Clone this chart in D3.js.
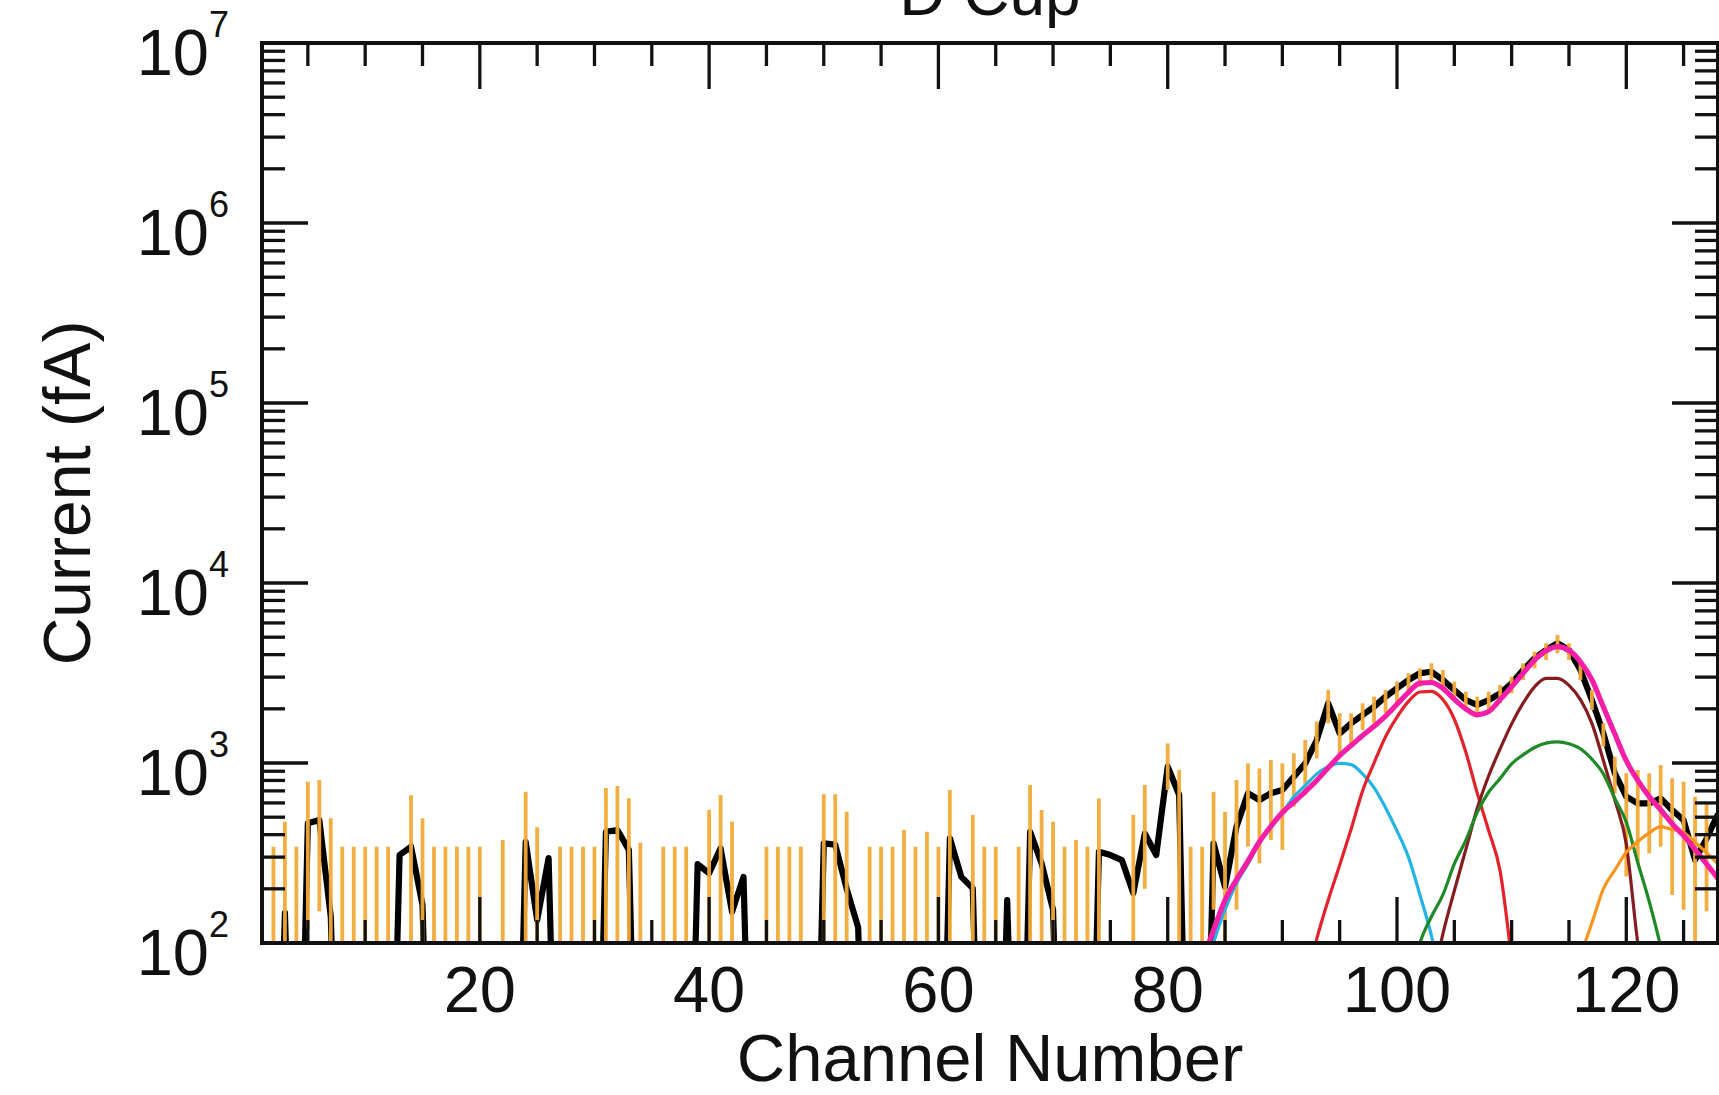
<!DOCTYPE html>
<html><head><meta charset="utf-8">
<script src="https://cdn.jsdelivr.net/npm/d3@7"></script>
<style>html,body{margin:0;padding:0;background:#fff;} svg{display:block;}</style>
</head><body>
<svg id="chart" width="1719" height="1095"></svg>
<script>
// ---------------- data ----------------
const title = "D Cup";
const xTitle = "Channel Number";
const yTitle = "Current (fA)";
const channels = d3.range(1, 129);
// measured current (fA); 1 = no signal (below the axis)
const measured = [
  1,1,147,1,463,482,140,1,1,1,
  1,1,308,343,163,1,1,1,1,1,
  1,1,1,365,134,296,1,1,1,1,
  415,424,329,1,1,1,1,1,274,244,
  336,149,233,1,1,1,1,1,1,358,
  352,200,122,1,1,1,1,1,1,1,
  382,233,201,1,1,173,1,415,277,153,
  1,1,1,321,308,289,189,406,308,955,
  664,1,1,358,205,443,679,623,679,708,
  839,995,1342,2147,1462,1661,1848,2055,2336,2603,
  2893,3150,3215,2893,2545,2239,2100,2239,2436,2773,
  3286,3818,4244,4625,4244,3286,2239,1462,877,650,
  597,597,636,548,482,290,380,520
];
// error bar upper and lower ends (null = no bar)
const errHi = [
  null,343,472,343,787,805,493,343,343,343,
  343,343,null,663,493,343,343,343,343,343,
  null,373,null,692,440,null,343,343,343,343,
  726,745,638,360,null,343,343,343,null,548,
  664,472,null,null,343,343,343,343,null,671,
  671,536,null,343,343,343,425,343,415,343,
  708,null,514,343,343,null,343,755,548,472,
  343,373,343,636,null,null,514,755,null,1285,
  914,343,343,692,536,805,995,933,1039,995,
  1133,1342,1700,2545,1889,1889,2147,2337,2545,2831,
  3150,3360,3580,3286,2831,2490,2335,2490,2713,3018,
  3580,4153,4625,5140,4625,3656,2545,1661,1085,877,
  914,877,975,822,788,650,600,null
];
const errLo = [
  null,1,1,1,120,150,1,1,1,1,
  1,1,null,1,1,1,1,1,1,1,
  null,1,null,1,1,null,1,1,1,1,
  1,1,1,1,null,1,1,1,null,1,
  1,1,null,null,1,1,1,1,null,1,
  1,1,null,1,1,1,1,1,1,1,
  1,null,1,1,1,null,1,1,1,1,
  1,1,1,1,null,null,1,200,null,708,
  1,1,1,153,1,153,343,277,373,329,
  572,664,1060,1661,1085,1233,1524,1661,1889,2147,
  2390,2655,2830,2545,2239,1970,1848,1970,2147,2438,
  2891,3360,3730,4066,3730,2891,1970,1233,679,234,
  277,315,343,185,153,1,150,null
];
// fitted components: [channel, current]
const fitCyan = [[83,55],[84,100],[85,153],[86,215],[87,275],[88,360],[89,440],[90,530],[91,650],[92,750],[93,870],[94,955],[95,995],[96,980],[97,870],[98,730],[99,565],[100,420],[101,300],[102,185],[103,110],[104,55]];
const fitRed = [[92,55],[93,105],[94,173],[95,270],[96,430],[97,700],[98,1000],[99,1400],[100,1800],[101,2200],[102,2480],[103,2500],[104,2250],[105,1750],[106,1150],[107,680],[108,420],[109,250],[110,80]];
const fitBrown = [[103,55],[104,112],[105,195],[106,330],[107,560],[108,850],[109,1200],[110,1650],[111,2150],[112,2650],[113,2950],[114,2950],[115,2700],[116,2250],[117,1660],[118,1033],[119,624],[120,355],[121,100],[122,40]];
const fitGreen = [[101,55],[102,100],[103,140],[104,185],[105,275],[106,372],[107,532],[108,690],[109,820],[110,990],[111,1110],[112,1220],[113,1290],[114,1310],[115,1280],[116,1200],[117,1050],[118,870],[119,635],[120,470],[121,280],[122,170],[123,95],[124,45]];
const fitOrange = [[116,85],[117,129],[118,200],[119,254],[120,319],[121,366],[122,409],[123,443],[124,427],[125,410],[126,363],[127,318],[128,275]];
const fitTotal = [[83,80],[84,118],[85,173],[86,225],[87,285],[88,365],[89,445],[90,530],[91,605],[92,693],[93,800],[94,940],[95,1100],[96,1250],[97,1420],[98,1600],[99,1820],[100,2120],[101,2470],[102,2780],[103,2800],[104,2600],[105,2260],[106,2000],[107,1850],[108,1930],[109,2250],[110,2650],[111,3150],[112,3730],[113,4200],[114,4430],[115,4230],[116,3650],[117,2900],[118,2050],[119,1450],[120,1030],[121,800],[122,650],[123,550],[124,460],[125,395],[126,330],[127,275],[128,228]];
const xMajorTicks = [20,40,60,80,100,120];
const xMinorTicks = [5,10,15,25,30,35,45,50,55,65,70,75,85,90,95,105,110,115,125];
const yMajorTicks = [1e2,1e3,1e4,1e5,1e6,1e7];
const yTickExponents = ["2","3","4","5","6","7"];

// ---------------- layout ----------------
const L = 262, R = 1718, T = 43, B = 943;
const font = "'Liberation Sans', Arial, Helvetica, sans-serif";
const svg = d3.select("#chart");
const x = d3.scaleLinear().domain([1, 128]).range([L, R]);
const y = d3.scaleLog().domain([100, 1e7]).range([B, T]);

svg.append("defs").append("clipPath").attr("id", "plotclip")
  .append("rect").attr("x", L).attr("y", T).attr("width", R - L).attr("height", B - T);
const plot = svg.append("g").attr("clip-path", "url(#plotclip)");

const pts = channels.map((c, i) => ({ch: c, v: measured[i], hi: errHi[i], lo: errLo[i]}));

// measured line
const lineM = d3.line().x(d => x(d.ch)).y(d => y(d.v));
plot.append("path").attr("d", lineM(pts))
  .attr("fill", "none").attr("stroke", "#000").attr("stroke-width", 6.2)
  .attr("stroke-linejoin", "round");

// error bars
plot.append("g").selectAll("line").data(pts.filter(d => d.hi != null)).join("line")
  .attr("x1", d => x(d.ch)).attr("x2", d => x(d.ch))
  .attr("y1", d => y(d.hi)).attr("y2", d => y(d.lo))
  .attr("stroke", "#f2aa38").attr("stroke-width", 3.8).attr("stroke-opacity", 0.95);

// fits
const lineF = d3.line().x(d => x(d[0])).y(d => y(d[1])).curve(d3.curveMonotoneX);
const fits = [
  [fitCyan, "#22b4e6", 3.2],
  [fitRed, "#e3222b", 3.2],
  [fitBrown, "#861c1f", 3.2],
  [fitGreen, "#1d8a26", 3.2],
  [fitOrange, "#f7951e", 3.2],
  [fitTotal, "#f41fa6", 5.2]
];
fits.forEach(([data, col, w]) => {
  plot.append("path").attr("d", lineF(data)).attr("fill", "none")
    .attr("stroke", col).attr("stroke-width", w).attr("stroke-linejoin", "round");
});

// ---------------- axes ----------------
const axG = svg.append("g").attr("stroke", "#111").attr("stroke-width", 3.3);
const tickMajor = 46, tickMinor = 23;
function vTicks(vals, len) {
  vals.forEach(v => {
    axG.append("line").attr("x1", x(v)).attr("x2", x(v)).attr("y1", B).attr("y2", B - len);
    axG.append("line").attr("x1", x(v)).attr("x2", x(v)).attr("y1", T).attr("y2", T + len);
  });
}
vTicks(xMajorTicks, tickMajor);
vTicks(xMinorTicks, tickMinor);
const yAll = y.ticks();
yAll.forEach(v => {
  const len = yMajorTicks.includes(v) ? tickMajor : tickMinor;
  axG.append("line").attr("x1", L).attr("x2", L + len).attr("y1", y(v)).attr("y2", y(v));
  axG.append("line").attr("x1", R).attr("x2", R - len).attr("y1", y(v)).attr("y2", y(v));
});
svg.append("rect").attr("x", L).attr("y", T).attr("width", R - L).attr("height", B - T)
  .attr("fill", "none").attr("stroke", "#111").attr("stroke-width", 4);

// tick labels
svg.append("g").selectAll("text").data(xMajorTicks).join("text")
  .attr("x", d => x(d)).attr("y", 1012).attr("text-anchor", "middle")
  .attr("font-family", font).attr("font-size", 65).attr("fill", "#111").text(d => d);

const yl = svg.append("g").selectAll("text").data(yMajorTicks).join("text")
  .attr("x", 229).attr("y", d => y(d) + 32).attr("text-anchor", "end")
  .attr("font-family", font).attr("font-size", 65).attr("fill", "#111");
yl.append("tspan").text("10");
yl.append("tspan").attr("font-size", 36).attr("dy", -38).text((d, i) => yTickExponents[i]);

// titles
svg.append("text").attr("x", (L + R) / 2).attr("y", 15).attr("text-anchor", "middle")
  .attr("font-family", font).attr("font-size", 64).attr("fill", "#111").text(title);
svg.append("text").attr("x", (L + R) / 2).attr("y", 1081).attr("text-anchor", "middle")
  .attr("font-family", font).attr("font-size", 67).attr("fill", "#111").text(xTitle);
svg.append("text").attr("transform", `translate(90,${(T + B) / 2}) rotate(-90)`)
  .attr("text-anchor", "middle").attr("font-family", font).attr("font-size", 66)
  .attr("fill", "#111").text(yTitle);
</script>
</body></html>
